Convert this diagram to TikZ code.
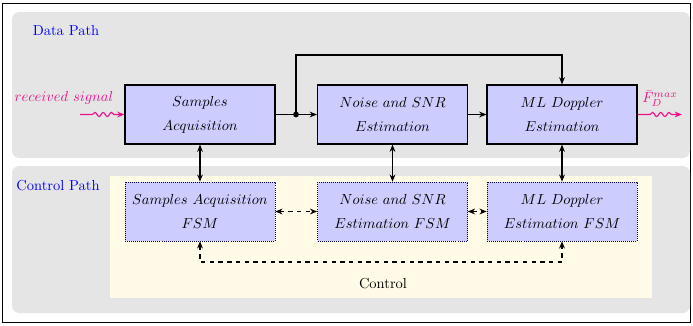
\documentclass[tikz,border=0pt]{standalone}
\usetikzlibrary{arrows.meta,decorations.pathmorphing,calc}
\definecolor{pathgray}{RGB}{229,229,229}
\definecolor{ctrlyellow}{RGB}{255,251,230}
\definecolor{nodeblue}{RGB}{204,204,255}
\definecolor{sigpink}{RGB}{232,20,140}
\begin{document}
\begin{tikzpicture}[x=0.69pt,y=-0.69pt,
  panel/.style={fill=pathgray,draw=none,rounded corners=5pt},
  datablock/.style={draw=black,thick,fill=nodeblue,minimum width=103.5pt,minimum height=40.7pt,align=center,inner sep=1pt},
  fsmblock/.style={draw=blue!30!black,densely dotted,fill=nodeblue,minimum width=103.5pt,minimum height=40.7pt,align=center,inner sep=1pt},
  arr/.style={thick,-{Stealth[length=5pt,width=4pt]}},
  darr/.style={thick,{Stealth[length=5pt,width=4pt]}-{Stealth[length=5pt,width=4pt]}},
  ddarr/.style={thick,dashed,{Stealth[length=5pt,width=4pt]}-{Stealth[length=5pt,width=4pt]}},
  sig/.style={sigpink,thick,-{Stealth[length=5pt,width=4pt]},decorate,decoration={snake,amplitude=0.5mm,segment length=2mm,pre length=3mm,post length=2mm}},
  lbl/.style={blue,font=\normalsize}
]
\useasboundingbox (0,0) rectangle (693,326);
\draw[black,line width=0.6pt] (2,3) rectangle (690.5,322.5);
\fill[panel] (12,12) rectangle (690,158);
\fill[panel] (12,166) rectangle (690,313);
\fill[ctrlyellow] (110,176) rectangle (652,298);

\node[lbl] (dp) at (66,31) {Data Path};
\node[lbl] (cp) at (58,186) {Control Path};

\node[datablock] (sa) at (200,114.5) {$Samples$\\[4.5pt]$Acquisition$};
\node[datablock] (ns) at (392.5,114.5) {$Noise\ and\ SNR$\\[4.5pt]$Estimation$};
\node[datablock] (ml) at (562,114.5) {$ML\ Doppler$\\[4.5pt]$Estimation$};

\node[fsmblock] (saf) at (200,211.5) {$Samples\ Acquisition$\\[4.5pt]$FSM$};
\node[fsmblock] (nsf) at (392.5,211.5) {$Noise\ and\ SNR$\\[4.5pt]$Estimation\ FSM$};
\node[fsmblock] (mlf) at (562,211.5) {$ML\ Doppler$\\[4.5pt]$Estimation\ FSM$};

\coordinate (j) at (296,114.5);
\draw[thick] (sa.east) -- (j);
\draw[arr] (j) -- (ns.west);
\fill (j) circle (2pt);
\draw[arr] (j) -- (296,55) -- (562,55) -- (ml.north);
\draw[arr] (ns.east) -- (ml.west);

\draw[darr] (sa.south) -- (saf.north);
\draw[darr] (ns.south) -- (nsf.north);
\draw[darr] (ml.south) -- (mlf.north);

\draw[ddarr] (saf.east) -- (nsf.west);
\draw[ddarr] (nsf.east) -- (mlf.west);
\draw[ddarr] (saf.south) -- (200,262) -- (562,262) -- (mlf.south);
\node (ctl) at (383,284) {Control};

\coordinate (in) at (80,114.5);
\draw[sig] (in) -- (sa.west);
\node[sigpink] (rs) at (64,98) {$received\ signal$};
\coordinate (out) at (682,114.5);
\draw[sig] (ml.east) -- (out);
\node[sigpink] (fd) at (660,99) {$\bar{F}_D^{max}$};
\end{tikzpicture}
\end{document}
